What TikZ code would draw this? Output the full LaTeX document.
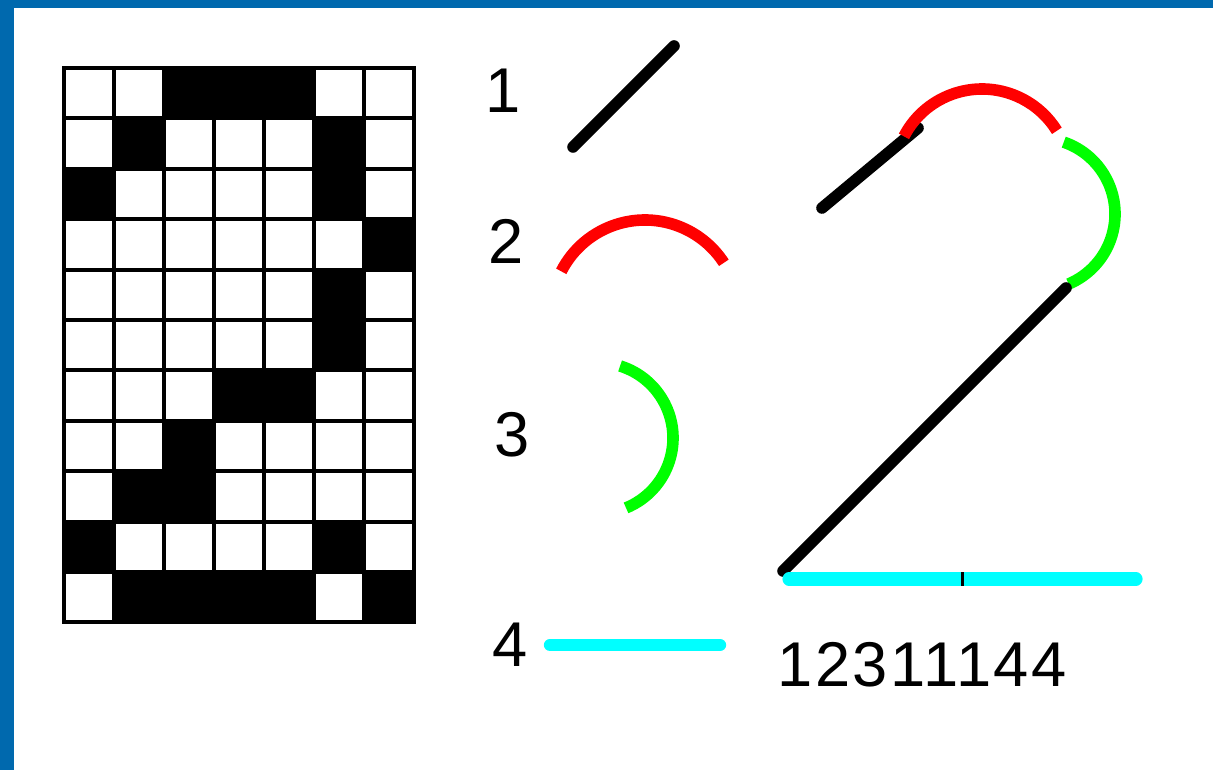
\documentclass[tikz,border=0pt]{standalone}
\usepackage{fontspec}
\setmainfont{Liberation Sans}
\definecolor{framebl}{RGB}{0,105,174}
\definecolor{strokered}{RGB}{255,0,0}
\definecolor{strokegreen}{RGB}{0,255,0}
\definecolor{strokecyan}{RGB}{0,255,255}
\tikzset{
  digit/.style={inner sep=0pt,font=\fontsize{36}{40}\selectfont},
  pen/.style={line width=6.6pt,line cap=round},
  arcpen/.style={line width=6.6pt,line cap=butt},
  cell/.style={fill=black}
}
\begin{document}
\begin{tikzpicture}[x=0.02cm,y=-0.02cm]
\useasboundingbox (0,0) rectangle (1213,770);
\fill[white] (0,0) rectangle (1213,770);
% frame
\fill[framebl] (0,0) rectangle (1213,8);
\fill[framebl] (0,0) rectangle (14,770);
% pixel grid
\foreach \c/\r in {2/0,3/0,4/0,1/1,5/1,0/2,5/2,6/3,5/4,5/5,3/6,4/6,2/7,1/8,2/8,0/9,5/9,1/10,2/10,3/10,4/10,6/10}
  \fill[cell] (64+50*\c,68+50.4*\r) rectangle ++(50,50.4);
\foreach \c in {0,...,7}
  \draw[line width=2.2pt,line cap=rect] (64+50*\c,68) -- (64+50*\c,622.4);
\foreach \r in {0,...,11}
  \draw[line width=2.2pt,line cap=rect] (64,68+50.4*\r) -- (414,68+50.4*\r);
% stroke primitives
\node[digit] (l1) at (503,91) {1};
\node[digit] (l2) at (506,241) {2};
\node[digit] (l3) at (512,435) {3};
\node[digit] (l4) at (510,645) {4};
\draw[pen] (573,147) -- (674,46);
\draw[arcpen,strokered] ([shift={(-153:94)}]645,314) arc[start angle=-153,end angle=-33,radius=94];
\draw[arcpen,strokegreen] ([shift={(-72.6:75.5)}]597.5,438) arc[start angle=-72.6,end angle=67.8,radius=75.5];
\draw[pen,strokecyan,line width=7pt] (550,645) -- (720,645);
% composed digit
\draw[pen] (822,208) -- (918,128);
\draw[arcpen,strokered] ([shift={(-152.5:88)}]982,177) arc[start angle=-152.5,end angle=-31.7,radius=88];
\draw[arcpen,strokegreen] ([shift={(-71:76)}]1039,214) arc[start angle=-71,end angle=67,radius=76];
\draw[pen] (1066,288) -- (783,571);
\draw[pen,strokecyan,line width=7.5pt] (789,579) -- (1136,579);
\fill (961,572) rectangle (964,586);
\node[digit,font=\fontsize{36}{40}\selectfont\addfontfeature{LetterSpace=3.8}] (code) at (922,665) {12311144};
\end{tikzpicture}
\end{document}
